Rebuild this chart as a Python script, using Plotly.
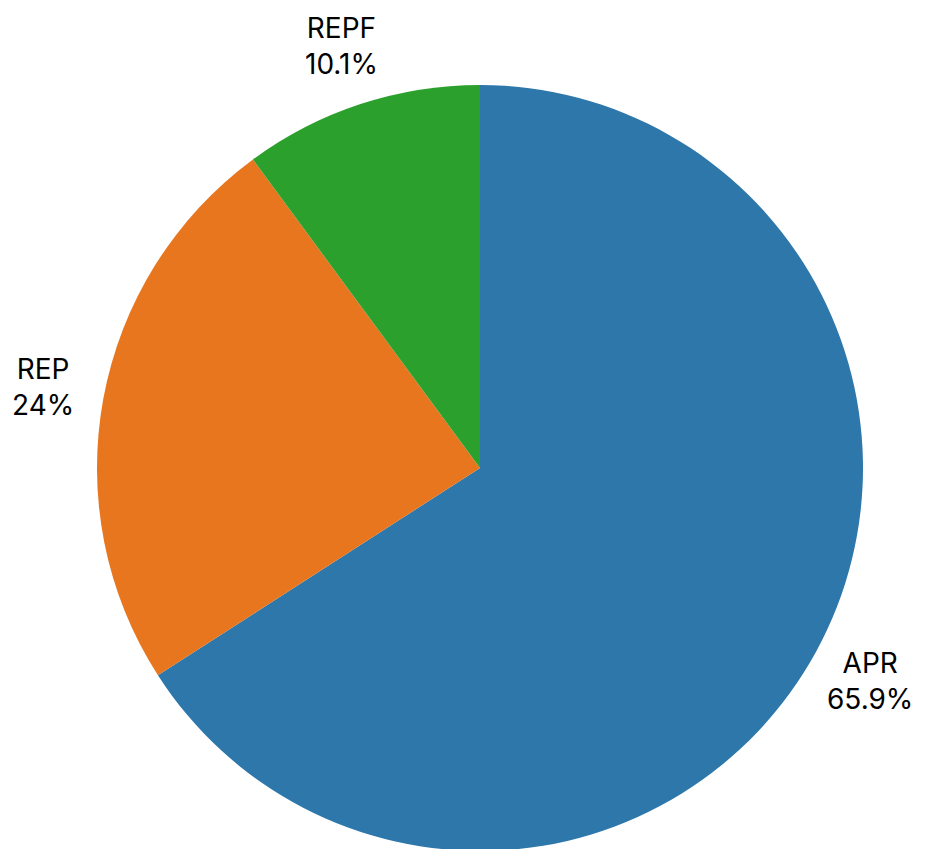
import math
import plotly.graph_objects as go

labels = ["APR", "REP", "REPF"]
values = [65.9, 24.0, 10.1]
colors = ["#2e77ab", "#e8761f", "#2ca02c"]

fig = go.Figure(go.Pie(
    labels=labels,
    values=values,
    sort=False,
    direction="clockwise",
    rotation=0,
    marker=dict(colors=colors, line=dict(width=0)),
    textinfo="none",
    showlegend=False,
    automargin=False,
    hole=0,
))

# label placement: centred at a radius beyond the pie edge, along each slice's mid-angle
L, R, T, B = 89, 72, 77, 6
W, H = 927, 849
pw, ph = W - L - R, H - T - B
radius_px = min(pw, ph) / 2
label_r = radius_px * 1.16
total = sum(values)
cum = 0.0
for lab, v in zip(labels, values):
    mid = (cum + v / 2) / total * 2 * math.pi
    cum += v
    dx = label_r * math.sin(mid)
    dy = label_r * math.cos(mid)
    pct = v / total * 100
    pct_txt = f"{pct:.1f}".rstrip("0").rstrip(".") + "%"
    fig.add_annotation(
        x=0.5 + dx / pw, y=0.5 + dy / ph, xref="paper", yref="paper",
        text=f"{lab}<br>{pct_txt}", showarrow=False,
        xanchor="center", yanchor="middle", align="center",
        font=dict(family="Inter", size=28, color="#000000"),
    )

fig.update_layout(
    width=W, height=H,
    margin=dict(l=L, r=R, t=T, b=B, autoexpand=False),
    paper_bgcolor="white",
    plot_bgcolor="white",
    font=dict(family="Inter"),
)

fig.write_html("out.html")
